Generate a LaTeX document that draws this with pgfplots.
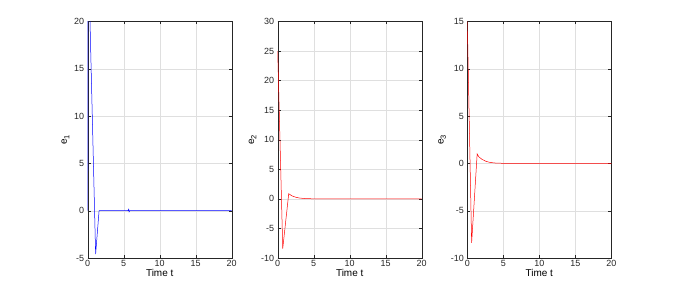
\documentclass[border=0pt]{standalone}
\usepackage{pgfplots}
\pgfplotsset{compat=1.18}
\usepackage{fontspec}
\setmainfont{Liberation Sans}
\definecolor{axgray}{rgb}{0.15,0.15,0.15}
\newcommand{\sub}[1]{\raisebox{-0.45ex}{\fontsize{7.5}{8}\selectfont #1}}
\pgfplotsset{
  mat/.style={
    scale only axis, width=144bp, height=236.5bp,
    xmin=0, xmax=20, xtick={0,5,10,15,20},
    grid=major, major grid style={gray!25, line width=0.4pt},
    axis line style={axgray, line width=0.4pt},
    tick style={axgray, line width=0.4pt},
    tick align=inside, major tick length=3pt,
    ticklabel style={font=\fontsize{9}{10}\selectfont, text=axgray},
    /pgf/number format/assume math mode=true,
    xticklabel style={yshift=1pt},
    label style={font=\fontsize{10}{12}\selectfont, text=black},
    xlabel={Time t},
    xlabel style={yshift=4pt},
    ylabel style={yshift=-2pt},
    clip=true,
  }
}
\begin{document}
\begin{tikzpicture}
\path[use as bounding box] (0,0) rectangle (676bp,290bp);
\begin{axis}[mat, at={(87.7bp,32bp)}, anchor=south west,
  ymin=-5, ymax=20, ytick={-5,0,5,10,15,20}, ylabel={e\sub{1}}]
\addplot[blue, line width=0.5pt] coordinates {
(0,0) (0.05,30) (0.1,30) (0.32,20) (1.1,-4.6) (1.58,0) (5.6,0) (5.7,0.15) (5.75,-0.12) (5.85,0) (20,0)};
\end{axis}
\begin{axis}[mat, at={(277.7bp,32bp)}, anchor=south west,
  ymin=-10, ymax=30, ytick={-10,-5,0,5,10,15,20,25,30}, ylabel={e\sub{2}}]
\addplot[red, line width=0.5pt] coordinates {
(0,25) (0.7,-8.4) (1.53,0.87) (2,0.5) (2.5,0.28) (3,0.15) (3.5,0.08) (4,0.04) (5,0.01) (6,0) (20,0)};
\end{axis}
\begin{axis}[mat, at={(467.3bp,32bp)}, anchor=south west,
  ymin=-10, ymax=15, ytick={-10,-5,0,5,10,15}, ylabel={e\sub{3}}]
\addplot[red, line width=0.5pt] coordinates {
(0,15) (0.6,-8.4) (1.37,1.0) (1.6,0.7) (2,0.45) (2.5,0.25) (3,0.13) (3.5,0.07) (4,0.03) (5,0.01) (6,0) (20,0)};
\end{axis}
\end{tikzpicture}
\end{document}
